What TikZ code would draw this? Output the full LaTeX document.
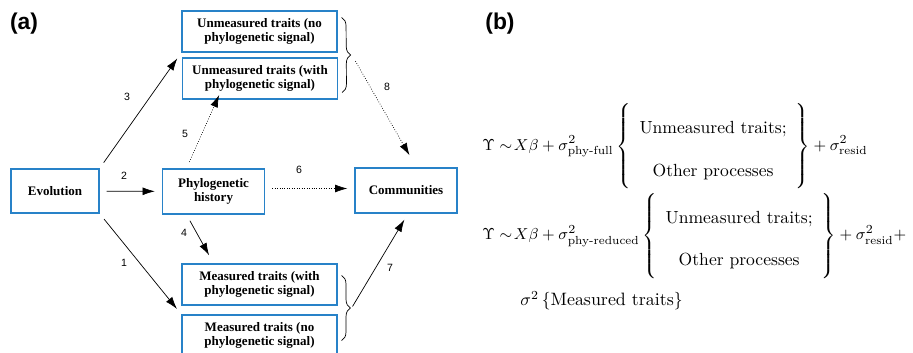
\documentclass[tikz,border=0pt]{standalone}
\usepackage{amsmath}
\usepackage{fontspec}
\setsansfont{Liberation Sans}
\newfontfamily\boxfont{Liberation Serif}
\usepackage{tikz}
\usetikzlibrary{arrows.meta,calc,positioning,decorations.pathreplacing}
\definecolor{boxblue}{RGB}{40,130,200}

\tikzset{traitbox/.style={draw=boxblue, line width=0.7pt, align=center, inner sep=0pt,
    minimum width=155\pxu, minimum height=41\pxu, font=\boxfont\fontsize{7.4}{8.2}\selectfont\bfseries},
  mainbox/.style={traitbox, minimum width=102\pxu, minimum height=45\pxu},
  numlab/.style={font=\sffamily\fontsize{6}{7}\selectfont},
  panel/.style={font=\sffamily\bfseries\fontsize{13}{15}\selectfont},
  link/.style={-{Latex[length=7pt,width=4.5pt]}, shorten <=4pt, shorten >=4pt},
  hint/.style={link, densely dotted},
  bracket/.style={decorate, decoration={brace, amplitude=5pt}, thin},
  eqn/.style={anchor=west, inner sep=0pt, font=\fontsize{9.5}{11.5}\selectfont}}
\newcommand{\pxu}{*0.02cm}
\newcommand{\bigtxt}[1]{\text{\fontsize{10}{11.5}\selectfont #1}}

\begin{document}
\begin{tikzpicture}[x=0.02cm,y=-0.02cm]
\clip (0,0) rectangle (913,352);

\node[panel] (pa) at (24,24) {(a)};
\node[panel] (pb) at (500,24) {(b)};

% boxes
\node[mainbox, minimum width=88\pxu, minimum height=44\pxu] (evo) at (55,191) {Evolution};
\node[mainbox] (phylo) at (213.5,191.5) {Phylogenetic\\history};
\node[mainbox] (comm) at (406,190.5) {Communities};

\node[traitbox] (unno) at (259.5,31.5) {Unmeasured traits (no\\phylogenetic signal)};
\node[traitbox] (unwith) at (260,78.5) {Unmeasured traits (with\\phylogenetic signal)};
\node[traitbox] (mwith) at (259.5,284.5) {Measured traits (with\\phylogenetic signal)};
\node[traitbox] (mno) at (259.5,335.5) {Measured traits (no\\phylogenetic signal)};

% braces
\draw[bracket] ($(unno.north east)+(4,7)$) -- ($(unwith.south east)+(4,-7)$)
  coordinate[midway] (upmid);
\draw[bracket] ($(mwith.north east)+(4,12)$) -- ($(mno.south east)+(4,-16)$)
  coordinate[midway] (lowmid);
\coordinate (uptip) at ($(upmid)+(10,0)$);
\coordinate (lowtip) at ($(lowmid)+(10,0)$);

% connectors
\draw[link] (evo.north east) -- (unno.south west);
\draw[link] (evo) -- (phylo);
\draw[link] (evo.south east) -- (mno.north west);
\draw[hint] ($(phylo.north)+(-27,0)$) -- ($(unwith.south)+(-38,-11)$);
\draw[link] ($(phylo.south)+(-27,0)$) -- ($(mwith.north)+(-47,-2)$);
\draw[hint] ($(phylo.east)+(0,-3)$) -- ($(comm.west)+(0,-2)$);
\draw[hint] (uptip) -- ($(comm.north)+(7,-6)$);
\draw[link, shorten <=1pt] (lowtip) -- ($(comm.south)+(2,0)$);

% numbers
\node[numlab] (n1) at (124,263) {1};
\node[numlab] (n2) at (124,176) {2};
\node[numlab] (n3) at (127,97) {3};
\node[numlab] (n4) at (184,233) {4};
\node[numlab] (n5) at (185,134) {5};
\node[numlab] (n6) at (299,170) {6};
\node[numlab] (n7) at (390,268) {7};
\node[numlab] (n8) at (387,87) {8};

% panel (b)
\node[eqn] (eqa) at (482,146.5)
  {$\Upsilon \sim\! X\beta + \sigma^2_{\text{phy-full}}
   \left\{\renewcommand{\arraystretch}{2.1}\begin{array}{c}
   \bigtxt{Unmeasured traits;}\\ \bigtxt{Other processes}\end{array}\right\}
   + \sigma^2_{\text{resid}}$};
\node[eqn] (eqb) at (482,236)
  {$\Upsilon \sim\! X\beta + \sigma^2_{\text{phy-reduced}}
   \left\{\renewcommand{\arraystretch}{2.1}\begin{array}{c}
   \bigtxt{Unmeasured traits;}\\ \bigtxt{Other processes}\end{array}\right\}
   + \sigma^2_{\text{resid}} +$};
\node[eqn, font=\fontsize{10.2}{12}\selectfont] (eqc) at (520,301)
  {$\sigma^2\,\{\text{Measured traits}\}$};
\end{tikzpicture}
\end{document}
